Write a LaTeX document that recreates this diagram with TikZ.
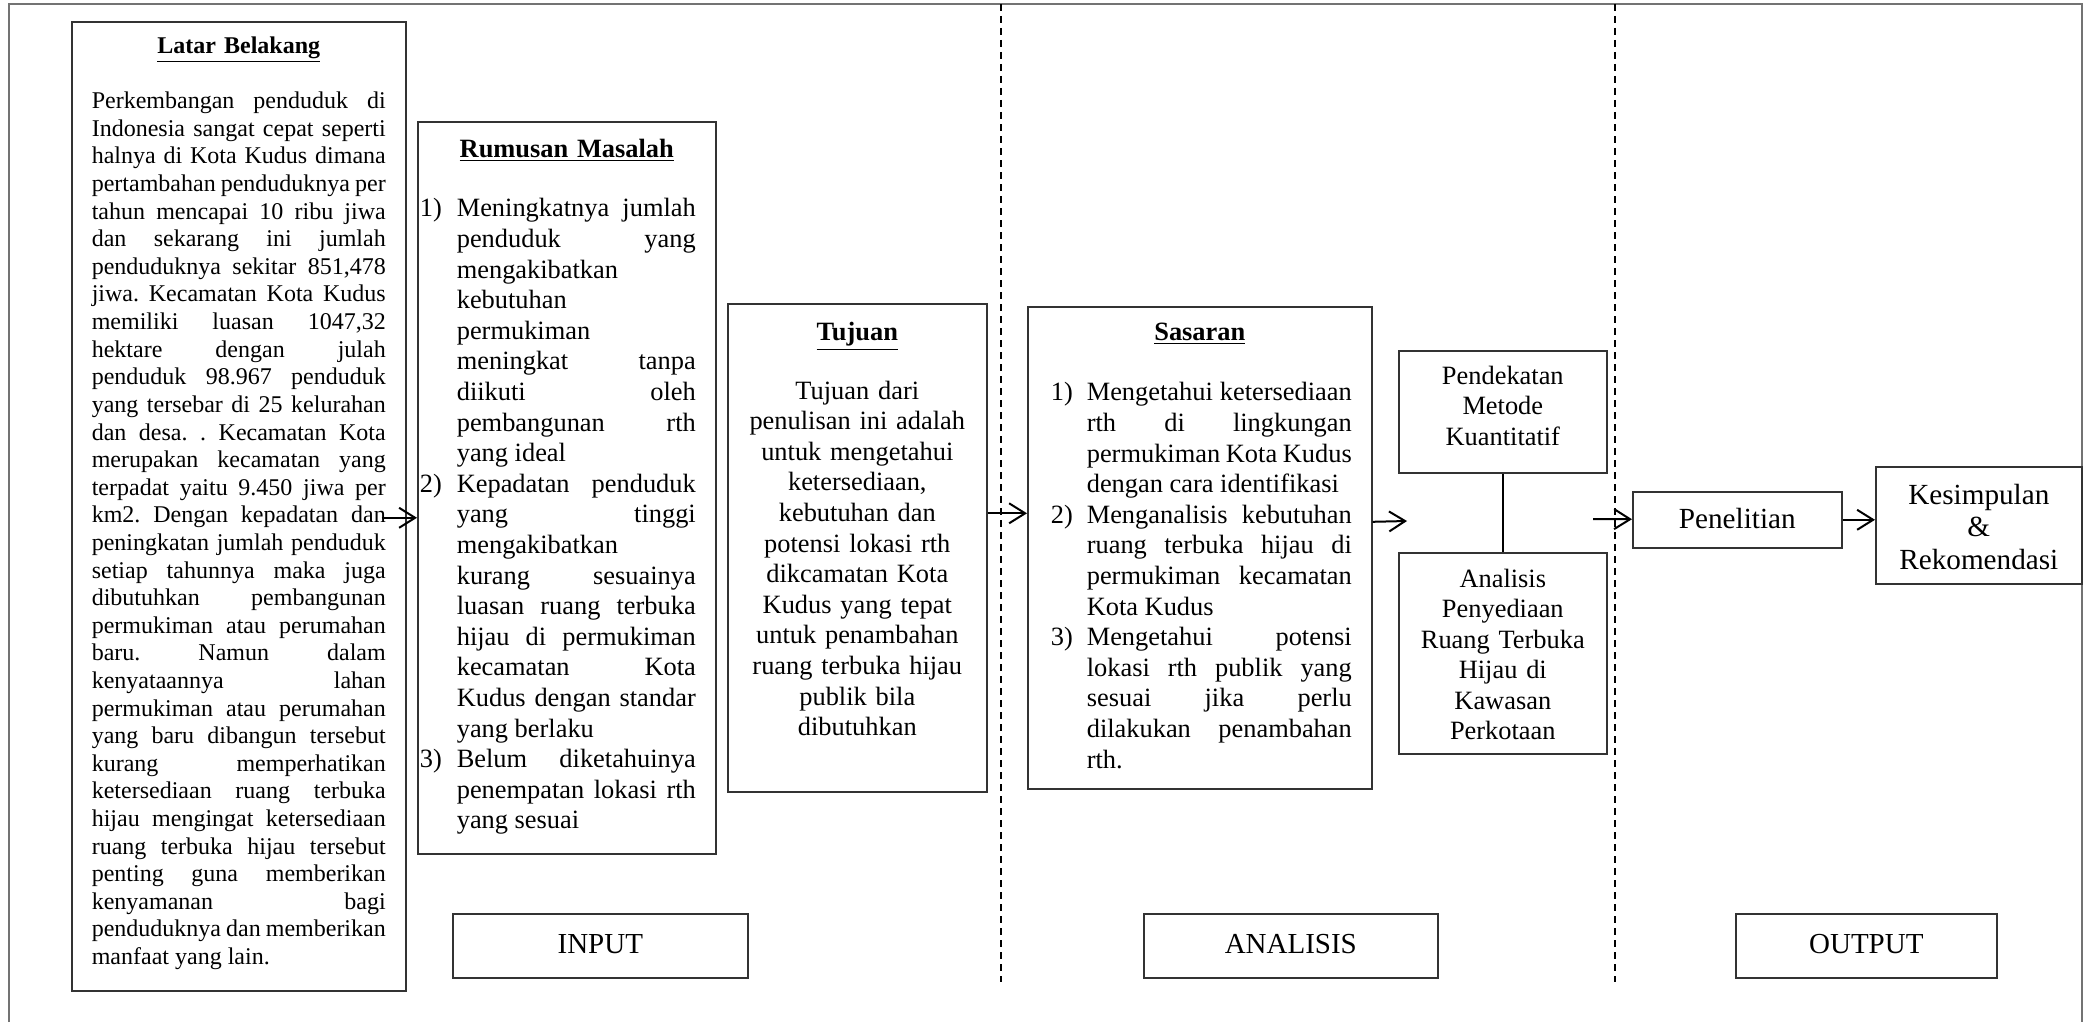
\documentclass[tikz,border=0pt]{standalone}
\usepackage{fontspec}
\setmainfont{Liberation Serif}
\usetikzlibrary{arrows.meta,calc}

\newlength{\lstart}
\newlength{\lhang}
\newlength{\lcol}
\newcommand{\wfill}{\spaceskip=0.25em plus 1fil minus 0.08em\relax\xspaceskip=\spaceskip}
\newcommand{\wfix}{\spaceskip=0.25em\relax\xspaceskip=\spaceskip}
\newcommand{\lnum}[2]{\hspace*{\lstart}\makebox[\lhang][l]{#1}\makebox[\lcol][s]{\wfill #2}}
\newcommand{\ljust}[1]{\hspace*{\lstart}\hspace*{\lhang}\makebox[\lcol][s]{\wfill #1}}
\newcommand{\lleft}[1]{\hspace*{\lstart}\hspace*{\lhang}{\wfix #1}}

\begin{document}
\begin{tikzpicture}[
    x=0.5pt, y=-0.5pt,
    box/.style={draw=black!80, line width=0.8pt, anchor=north west, inner sep=0pt, font=\fontsize{13.2}{15.3}\selectfont},
    tag/.style={box, minimum width=#1, font=\fontsize{14.5}{16.7}\selectfont, text height=19.85pt, text depth=12.15pt},
    arr/.style={-{Straight Barb[length=8pt,width=10pt]}, line width=1pt},
    divider/.style={line width=1pt, dash pattern=on 3.5pt off 2.5pt}
  ]
    \useasboundingbox (0,0) rectangle (2091,1022);
    \draw[black!55, line width=0.6pt] (9,1022) -- (9,4) -- (2082,4) -- (2082,1022);

    \node[box, text width=147pt, inner xsep=10pt, align=left, text height=16pt, text depth=468.5pt, font=\fontsize{12}{13.8}\selectfont] (latar) at (71,21) {%
      \setlength{\lstart}{0pt}\setlength{\lhang}{0pt}\setlength{\lcol}{147pt}%
      \makebox[\linewidth]{\textbf{\underline{Latar Belakang}}}\\[13.7pt]
      \ljust{Perkembangan penduduk di}\\
      \ljust{Indonesia sangat cepat seperti}\\
      \ljust{halnya di Kota Kudus dimana}\\
      \ljust{pertambahan penduduknya per}\\
      \ljust{tahun mencapai 10 ribu jiwa}\\
      \ljust{dan sekarang ini jumlah}\\
      \ljust{penduduknya sekitar 851,478}\\
      \ljust{jiwa. Kecamatan Kota Kudus}\\
      \ljust{memiliki luasan 1047,32}\\
      \ljust{hektare dengan julah}\\
      \ljust{penduduk 98.967 penduduk}\\
      \ljust{yang tersebar di 25 kelurahan}\\
      \ljust{dan desa. . Kecamatan Kota}\\
      \ljust{merupakan kecamatan yang}\\
      \ljust{terpadat yaitu 9.450 jiwa per}\\
      \ljust{km2. Dengan kepadatan dan}\\
      \ljust{peningkatan jumlah penduduk}\\
      \ljust{setiap tahunnya maka juga}\\
      \ljust{dibutuhkan pembangunan}\\
      \ljust{permukiman atau perumahan}\\
      \ljust{baru. Namun dalam}\\
      \ljust{kenyataannya lahan}\\
      \ljust{permukiman atau perumahan}\\
      \ljust{yang baru dibangun tersebut}\\
      \ljust{kurang memperhatikan}\\
      \ljust{ketersediaan ruang terbuka}\\
      \ljust{hijau mengingat ketersediaan}\\
      \ljust{ruang terbuka hijau tersebut}\\
      \ljust{penting guna memberikan}\\
      \ljust{kenyamanan bagi}\\
      \ljust{penduduknya dan memberikan}\\
      \lleft{manfaat yang lain.}};

    \node[box, text width=149pt, align=left, text height=17.85pt, text depth=348.15pt] (rumusan) at (417,121) {%
      \setlength{\lstart}{1pt}\setlength{\lhang}{18.5pt}\setlength{\lcol}{119.5pt}%
      \makebox[\linewidth]{\textbf{\underline{Rumusan Masalah}}}\\[14.35pt]
      \lnum{1)}{Meningkatnya jumlah}\\
      \ljust{penduduk yang}\\
      \lleft{mengakibatkan}\\
      \lleft{kebutuhan}\\
      \lleft{permukiman}\\
      \ljust{meningkat tanpa}\\
      \ljust{diikuti oleh}\\
      \ljust{pembangunan rth}\\
      \lleft{yang ideal}\\
      \lnum{2)}{Kepadatan penduduk}\\
      \ljust{yang tinggi}\\
      \lleft{mengakibatkan}\\
      \ljust{kurang sesuainya}\\
      \ljust{luasan ruang terbuka}\\
      \ljust{hijau di permukiman}\\
      \ljust{kecamatan Kota}\\
      \ljust{Kudus dengan standar}\\
      \lleft{yang berlaku}\\
      \lnum{3)}{Belum diketahuinya}\\
      \ljust{penempatan lokasi rth}\\
      \lleft{yang sesuai}};

    \node[box, text width=119.5pt, inner xsep=5pt, align=center, text height=18.5pt, text depth=225.5pt] (tujuan) at (727,303) {%
      \textbf{\underline{Tujuan}}\\[13.85pt]
      Tujuan dari\\ penulisan ini adalah\\ untuk mengetahui\\ ketersediaan,\\ kebutuhan dan\\ potensi lokasi rth\\
      dikcamatan Kota\\ Kudus yang tepat\\ untuk penambahan\\ ruang terbuka hijau\\ publik bila\\ dibutuhkan};

    \node[box, text width=172pt, align=left, text height=17pt, text depth=224pt] (sasaran) at (1027,306) {%
      \setlength{\lstart}{11.5pt}\setlength{\lhang}{18pt}\setlength{\lcol}{132.5pt}%
      \makebox[\linewidth]{\textbf{\underline{Sasaran}}}\\[14.7pt]
      \lnum{1)}{Mengetahui ketersediaan}\\
      \ljust{rth di lingkungan}\\
      \ljust{permukiman Kota Kudus}\\
      \lleft{dengan cara identifikasi}\\
      \lnum{2)}{Menganalisis kebutuhan}\\
      \ljust{ruang terbuka hijau di}\\
      \ljust{permukiman kecamatan}\\
      \lleft{Kota Kudus}\\
      \lnum{3)}{Mengetahui potensi}\\
      \ljust{lokasi rth publik yang}\\
      \ljust{sesuai jika perlu}\\
      \ljust{dilakukan penambahan}\\
      \lleft{rth.}};

    \node[box, text width=100pt, inner xsep=2pt, align=center, text height=16.65pt, text depth=44.35pt] (pendekatan) at (1398,350) {Pendekatan\\ Metode\\ Kuantitatif};
    \node[box, text width=100pt, inner xsep=2pt, align=center, text height=17.35pt, text depth=83.15pt, font=\fontsize{13.2}{15.2}\selectfont] (analisis) at (1398,552) {Analisis\\ Penyediaan\\ Ruang Terbuka\\ Hijau di\\ Kawasan\\ Perkotaan};
    \node[box, text width=100.5pt, inner xsep=2pt, align=center, text height=18.15pt, text depth=9.85pt, font=\fontsize{14.6}{16.3}\selectfont] (penelitian) at (1632,491) {Penelitian};
    \node[box, text width=99pt, inner xsep=2pt, align=center, text height=18.65pt, text depth=39.85pt, font=\fontsize{14.6}{16.3}\selectfont] (kesimpulan) at (1875,466) {Kesimpulan\\ \&\\ Rekomendasi};

    \node[tag=147.5pt] (inputlbl) at (452,913) {INPUT};
    \node[tag=147pt] (analisislbl) at (1143,913) {ANALISIS};
    \node[tag=130.5pt] (outputlbl) at (1735,913) {OUTPUT};

    \draw[divider] (1001,4) -- (1001,982);
    \draw[divider] (1615,4) -- (1615,982);

    \coordinate (sasaranout) at (1407,521);
    \coordinate (penelitianin) at (1593,519);
    \draw[arr] ($(latar.east)+(-25,11.5)$) -- ($(rumusan.west)+(0,30)$);
    \draw[arr] ($(tujuan.east)+(0,-34.5)$) -- ($(sasaran.west)+(0,-34.5)$);
    \draw[arr] ($(sasaran.east)+(0,-26)$) -- (sasaranout);
    \draw[line width=0.8pt] (pendekatan) -- (analisis);
    \draw[arr] (penelitianin) -- (penelitian);
    \draw[arr] (penelitian) -- (penelitian -| kesimpulan.west);
  \end{tikzpicture}
\end{document}
